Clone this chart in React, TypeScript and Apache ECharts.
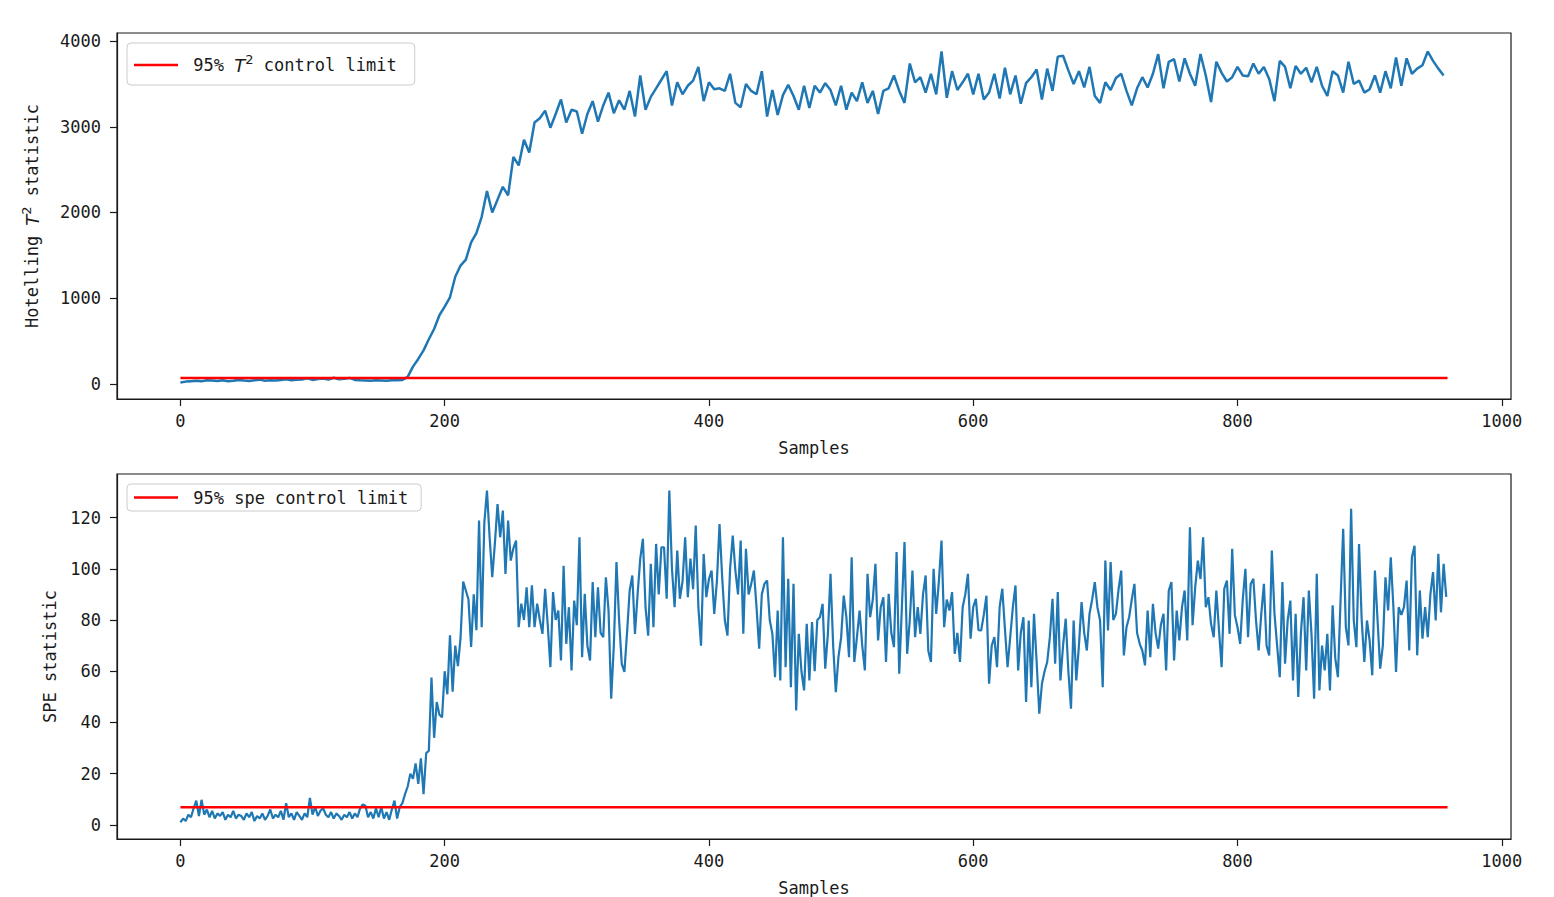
import React, { useEffect, useRef } from 'react';
import * as echarts from 'echarts';

// ---- data ----
const T2_STEP = 4; // samples between consecutive T2 values
const SPE_STEP = 2; // samples between consecutive SPE values
const LAST_SAMPLE = 959;
const T2_LIMIT = 68;
const SPE_LIMIT = 6.9;
const T2_LIMIT_NAME = '95% T2 control limit';
const SPE_LIMIT_NAME = '95% spe control limit';
const X_TICKS = [0, 200, 400, 600, 800, 1000];
const T2_TICKS = [0, 1000, 2000, 3000, 4000];
const SPE_TICKS = [0, 20, 40, 60, 80, 100, 120];

const t2Values = [
  15, 25, 30, 35, 28, 40, 38, 32, 42, 30,
  36, 45, 38, 33, 40, 48, 35, 42, 38, 45,
  52, 40, 46, 50, 65, 45, 55, 62, 48, 70,
  52, 58, 68, 45, 40, 38, 35, 40, 38, 36,
  42, 40, 45, 80, 200, 290, 390, 520, 640, 800,
  900, 1010, 1250, 1380, 1450, 1650, 1760, 1950, 2250, 2000,
  2150, 2300, 2200, 2650, 2550, 2850, 2700, 3050, 3100, 3190,
  2990, 3150, 3320, 3050, 3200, 3180, 2920, 3150, 3300, 3060,
  3250, 3400, 3160, 3310, 3200, 3420, 3120, 3600, 3200, 3350,
  3450, 3550, 3650, 3250, 3520, 3380, 3480, 3540, 3700, 3300,
  3520, 3440, 3450, 3420, 3620, 3280, 3230, 3500, 3420, 3380,
  3650, 3120, 3430, 3140, 3370, 3490, 3360, 3200, 3480, 3220,
  3480, 3400, 3510, 3430, 3250, 3480, 3200, 3400, 3300, 3520,
  3280, 3420, 3150, 3420, 3450, 3600, 3420, 3280, 3740, 3520,
  3580, 3400, 3620, 3380, 3880, 3340, 3650, 3430, 3520, 3620,
  3380, 3620, 3320, 3400, 3620, 3330, 3690, 3380, 3600, 3270,
  3510, 3580, 3670, 3320, 3680, 3420, 3820, 3830, 3660, 3500,
  3650, 3460, 3700, 3360, 3280, 3520, 3430, 3570, 3620, 3420,
  3250, 3450, 3580, 3460, 3620, 3850, 3450, 3760, 3790, 3530,
  3800, 3620, 3480, 3850, 3600, 3290, 3760, 3630, 3530, 3580,
  3700, 3600, 3590, 3740, 3620, 3700, 3560, 3300, 3770, 3700,
  3450, 3710, 3620, 3690, 3520, 3700, 3480, 3360, 3650, 3600,
  3400, 3760, 3500, 3540, 3400, 3440, 3600, 3400, 3650, 3450,
  3810, 3480, 3800, 3620, 3680, 3720, 3880, 3770, 3680, 3600,
];

const speValues = [
  1.0, 2.5, 1.5, 4.0, 3.0, 6.5, 9.5, 3.5, 9.8, 4.0,
  6.0, 3.0, 5.5, 2.5, 4.5, 3.5, 5.0, 2.0, 4.0, 3.0,
  5.5, 2.5, 4.0, 3.5, 2.0, 4.5, 3.0, 5.0, 1.5, 3.5,
  2.5, 4.5, 2.0, 3.5, 6.0, 2.5, 4.0, 3.0, 5.5, 2.0,
  8.5, 3.0, 4.5, 2.0, 5.0, 3.5, 2.0, 4.5, 3.0, 10.5,
  4.0, 7.0, 3.5, 5.5, 6.5, 4.0, 3.0, 5.0, 2.5, 4.5,
  3.5, 2.0, 4.0, 3.0, 5.0, 2.5, 4.5, 3.0, 6.5, 8.0,
  7.5, 3.0, 5.0, 2.5, 6.5, 3.0, 7.0, 2.5, 5.0, 2.0,
  6.0, 9.5, 2.5, 7.0, 8.5, 12, 15, 20, 18, 24,
  16, 26, 12, 28, 29, 57.5, 34, 48, 43, 42,
  60, 51, 74, 52, 70, 62, 73, 95, 91.5, 88,
  69.5, 90, 76, 118.8, 77.2, 118, 130.5, 112.3, 96.7, 110,
  125.3, 112.3, 122.7, 98, 118.8, 103.2, 108, 111, 77.2, 86.4,
  80, 92.8, 77.2, 93.5, 77.2, 86.4, 80, 74.6, 92.2, 78,
  61.6, 90.9, 80, 83.7, 64.2, 101.2, 70.7, 85, 60.3, 87.6,
  78, 112.3, 65.5, 90.2, 70, 64.2, 94.8, 73.3, 92.8, 75,
  73.3, 96.7, 83.7, 49.3, 70, 102.6, 80, 62.9, 59.7, 75,
  91.5, 97.4, 74.6, 90, 103.9, 111.7, 85, 73.9, 101.9, 77.2,
  109.7, 90, 108.4, 108.4, 88.3, 130.5, 100, 85, 107.1, 88.3,
  95, 112.3, 88.9, 104, 92, 116.9, 85, 70, 105.8, 88.9,
  96, 99.3, 82.4, 95, 117.5, 96.7, 80, 73.9, 100, 113,
  99.3, 90, 111, 74.6, 107.8, 90, 94.1, 99.3, 85, 68.8,
  90, 94.1, 95.4, 80, 74.6, 57.7, 83.7, 56.4, 112.3, 61.6,
  96.1, 53.8, 94.1, 44.7, 74.6, 60, 52.5, 78.5, 56.4, 79.2,
  60, 80, 81.1, 86.3, 61, 74.6, 98, 70, 51.8, 65.5,
  73, 89.5, 81.1, 65.5, 104.5, 63.6, 73.3, 83.7, 70, 60.3,
  98, 81.1, 88, 101.9, 72, 85, 88.9, 63.6, 90.2, 75,
  69.4, 106.5, 59, 85, 110.4, 66.8, 80, 99.3, 73.3, 85,
  74.6, 90, 97.4, 68, 63.6, 100, 82.4, 95, 111, 77.2,
  88, 83.7, 90.9, 66.8, 75, 63.6, 85, 90, 98, 72.7,
  85, 88.3, 76, 75.9, 82, 89.5, 55.1, 70, 73.3, 61.6,
  85, 92.2, 76.5, 61.6, 73.3, 85, 93.5, 60.3, 75, 81.1,
  48, 79.8, 53.8, 82.4, 63.6, 43.4, 55.1, 60, 63.6, 73.3,
  88.3, 62.9, 90.9, 56.4, 70, 80.5, 60, 45.4, 79.8, 56.4,
  70, 87, 75, 68.1, 82.4, 88, 94.8, 85, 79.8, 53.8,
  103.2, 75.9, 102.6, 80, 82.4, 92, 99.3, 66.2, 77.2, 81.1,
  88, 94.1, 75, 70.7, 68, 62.3, 83.7, 65.5, 86.3, 75,
  68.8, 78, 82.4, 60.3, 91.5, 94.8, 64.2, 83.7, 72, 85,
  91.5, 72, 116.2, 78, 92.8, 103.2, 96, 112.3, 85, 88.9,
  78.5, 73.3, 91.5, 76, 61.6, 92.2, 95.4, 74.6, 107.8, 82,
  77.2, 70.7, 88, 100, 73.3, 94.1, 96.1, 80, 68.1, 82.4,
  94.1, 70, 66.2, 107.1, 82.4, 70, 57.7, 94.8, 62.9, 80,
  87.6, 56.4, 82.4, 50, 75, 88.9, 60.3, 91.5, 74.6, 49.3,
  98, 52.5, 70, 60.3, 74.6, 52.5, 85.7, 65, 57.7, 87.6,
  115.6, 77.2, 70.1, 123.4, 79.8, 69.4, 109.7, 80, 63.6, 79.8,
  72, 58.4, 99.3, 80, 61, 70, 96.7, 83.7, 104.5, 85,
  59.7, 85, 82, 85, 95.4, 68.1, 104.5, 109, 66.2, 91.5,
  72.7, 85, 73.3, 90, 98.7, 79.8, 105.8, 83, 101.9, 89,
];

// ---- styling ----
const FONT = "'DejaVu Sans Mono', 'Liberation Mono', monospace";
const INK = '#1a1a1a';
const BLUE = '#1f77b4';
const RED = '#ff0000';

const richText = {
  a: { fontFamily: FONT, fontSize: 17, color: INK, lineHeight: 24 },
  i: { fontFamily: 'DejaVu Sans', fontStyle: 'italic', fontSize: 18, color: INK, lineHeight: 24 },
  s: { fontFamily: 'DejaVu Sans', fontSize: 13, color: INK, verticalAlign: 'top', lineHeight: 12 },
};

const plain = (v: number) => String(v);

function xAxisFor(gridIndex: number) {
  return {
    type: 'value',
    gridIndex,
    min: -48,
    max: 1007,
    splitLine: { show: false },
    axisLine: { show: true, onZero: false, lineStyle: { color: INK, width: 1.2 } },
    axisTick: { show: true, inside: false, length: 7, customValues: X_TICKS, lineStyle: { color: INK, width: 1.2 } },
    axisLabel: { customValues: X_TICKS, formatter: plain, margin: 13, color: INK, fontSize: 17, fontFamily: FONT },
    name: 'Samples',
    nameLocation: 'middle',
    nameGap: 40,
    nameTextStyle: { color: INK, fontSize: 17, fontFamily: FONT },
  };
}

function yAxisFor(gridIndex: number, min: number, max: number, ticks: number[], name: string, gap: number) {
  return {
    type: 'value',
    gridIndex,
    min,
    max,
    splitLine: { show: false },
    axisLine: { show: true, onZero: false, lineStyle: { color: INK, width: 1.2 } },
    axisTick: { show: true, inside: false, length: 7, customValues: ticks, lineStyle: { color: INK, width: 1.2 } },
    axisLabel: { customValues: ticks, formatter: plain, margin: 16, color: INK, fontSize: 17, fontFamily: FONT },
    name,
    nameLocation: 'middle',
    nameGap: gap,
    nameTextStyle: { color: INK, fontSize: 17, fontFamily: FONT, rich: richText },
  };
}

function legendFor(name: string, top: number, label: string, padding: number[]) {
  return {
    data: [name],
    left: 127,
    top,
    orient: 'vertical',
    icon: 'rect',
    itemWidth: 44,
    itemHeight: 2.6,
    padding,
    backgroundColor: 'rgba(255,255,255,0.85)',
    borderColor: '#cccccc',
    borderWidth: 1,
    borderRadius: 4,
    selectedMode: false,
    formatter: () => label,
    textStyle: { fontFamily: FONT, fontSize: 17, color: INK, rich: richText },
  };
}

export default function App() {
  const ref = useRef<HTMLDivElement>(null);
  useEffect(() => {
    if (!ref.current) return;
    const chart = echarts.init(ref.current, undefined, { renderer: 'svg' });
    const gridBase = { left: 117, width: 1394, height: 366, show: true, borderColor: INK, borderWidth: 1.2, backgroundColor: 'transparent' };
    chart.setOption({
      animation: false,
      backgroundColor: '#ffffff',
      grid: [
        { ...gridBase, top: 33 },
        { ...gridBase, top: 474 },
      ],
      legend: [
        legendFor(T2_LIMIT_NAME, 43, '{a| 95% }{i|T}{s|2}{a| control limit}', [10, 18, 11, 7]),
        legendFor(SPE_LIMIT_NAME, 484, '{a| 95% spe control limit}', [5, 13, 5, 7]),
      ],
      xAxis: [xAxisFor(0), xAxisFor(1)],
      yAxis: [
        yAxisFor(0, -178, 4096, T2_TICKS, 'Hotelling {i|T}{s|2} statistic', 73),
        yAxisFor(1, -5.5, 137, SPE_TICKS, 'SPE statistic', 59),
      ],
      series: [
        {
          type: 'line',
          xAxisIndex: 0,
          yAxisIndex: 0,
          data: t2Values.map((v, i) => [i * T2_STEP, v]),
          symbol: 'none',
          lineStyle: { color: BLUE, width: 2.5 },
          itemStyle: { color: BLUE },
          silent: true,
        },
        {
          type: 'line',
          name: T2_LIMIT_NAME,
          xAxisIndex: 0,
          yAxisIndex: 0,
          data: [[0, T2_LIMIT], [LAST_SAMPLE, T2_LIMIT]],
          symbol: 'none',
          lineStyle: { color: RED, width: 2.5 },
          itemStyle: { color: RED },
          silent: true,
        },
        {
          type: 'line',
          xAxisIndex: 1,
          yAxisIndex: 1,
          data: speValues.map((v, i) => [i * SPE_STEP, v]),
          symbol: 'none',
          lineStyle: { color: BLUE, width: 2.2 },
          itemStyle: { color: BLUE },
          silent: true,
        },
        {
          type: 'line',
          name: SPE_LIMIT_NAME,
          xAxisIndex: 1,
          yAxisIndex: 1,
          data: [[0, SPE_LIMIT], [LAST_SAMPLE, SPE_LIMIT]],
          symbol: 'none',
          lineStyle: { color: RED, width: 2.5 },
          itemStyle: { color: RED },
          silent: true,
        },
      ],
    });
    return () => chart.dispose();
  }, []);
  return (
    <div
      ref={ref}
      style={{ position: 'fixed', left: 0, top: 0, width: '1554px', height: '897px', background: '#fff' }}
    />
  );
}
